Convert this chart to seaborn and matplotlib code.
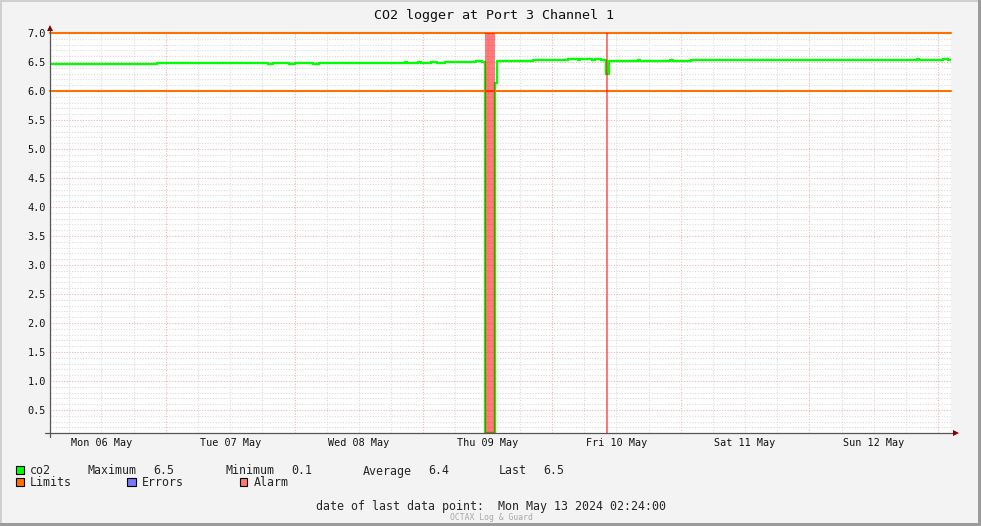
import matplotlib
matplotlib.use("Agg")
import matplotlib.pyplot as plt
import matplotlib.dates as mdates
from matplotlib.ticker import MultipleLocator, FormatStrFormatter, FuncFormatter, NullFormatter
from matplotlib.patches import Rectangle
import pandas as pd
import seaborn as sns

# ---------------- data ----------------
co2_time = [
    "2024-05-06 02:24", "2024-05-06 12:05", "2024-05-06 13:30", "2024-05-06 14:40",
    "2024-05-06 16:20", "2024-05-06 17:30", "2024-05-06 19:40", "2024-05-06 20:30",
    "2024-05-06 22:20", "2024-05-07 19:00", "2024-05-07 20:00", "2024-05-07 23:00",
    "2024-05-08 00:00", "2024-05-08 03:30", "2024-05-08 04:30", "2024-05-08 20:30",
    "2024-05-08 21:00", "2024-05-08 23:00", "2024-05-08 23:40", "2024-05-09 01:30",
    "2024-05-09 02:30", "2024-05-09 04:00", "2024-05-09 09:45", "2024-05-09 11:00",
    "2024-05-09 11:26", "2024-05-09 11:36", "2024-05-09 13:18", "2024-05-09 13:24",
    "2024-05-09 13:50", "2024-05-09 19:00", "2024-05-09 20:30", "2024-05-10 02:58",
    "2024-05-10 04:50", "2024-05-10 05:10", "2024-05-10 07:30", "2024-05-10 08:00",
    "2024-05-10 09:06", "2024-05-10 10:04", "2024-05-10 10:36", "2024-05-10 16:00",
    "2024-05-10 16:30", "2024-05-10 22:00", "2024-05-10 22:30", "2024-05-11 02:00",
    "2024-05-11 02:30", "2024-05-11 06:00", "2024-05-12 20:00", "2024-05-12 20:30",
    "2024-05-13 01:00", "2024-05-13 01:45", "2024-05-13 02:24",
]
co2_value = [
    6.46, 6.47, 6.46, 6.47,
    6.46, 6.47, 6.46, 6.47,
    6.48, 6.47, 6.48, 6.47,
    6.48, 6.47, 6.48, 6.50,
    6.48, 6.50, 6.49, 6.50,
    6.49, 6.50, 6.51, 6.50,
    5.40, 0.10, 2.10, 6.14,
    6.51, 6.52, 6.53, 6.555,
    6.53, 6.555, 6.54, 6.555,
    6.53, 6.29, 6.52, 6.54,
    6.52, 6.54, 6.52, 6.54,
    6.53, 6.535, 6.555, 6.535,
    6.555, 6.535, 6.535,
]
limit_values = [6.0, 7.0]
alarm_start = ["2024-05-09 11:36", "2024-05-10 10:05"]
alarm_end = ["2024-05-09 13:22", "2024-05-10 10:27"]
x_start, x_end = "2024-05-06 02:24", "2024-05-13 02:24"

title = "CO2 logger at Port 3 Channel 1"
stat_names = ["Maximum", "Minimum", "Average", "Last"]
stat_values = ["6.5", "0.1", "6.4", "6.5"]
legend_labels = ["co2", "Limits", "Errors", "Alarm"]
legend_colors = ["#00FF00", "#FF7000", "#7777FF", "#FF7777"]
last_point_text = "date of last data point:  Mon May 13 2024 02:24:00"
footer = "OCTAX Log & Guard"

# ---------------- style ----------------
sns.set_style("white")
plt.rcParams["font.family"] = ["DejaVu Sans Mono", "DejaVu Sans"]

W, H = 981, 526
fig = plt.figure(figsize=(W / 100, H / 100), dpi=100, facecolor="#F3F3F3")
ax = fig.add_axes([50 / W, 93 / H, 901 / W, 400 / H])
ax.set_facecolor("white")

df = pd.DataFrame({"time": pd.to_datetime(co2_time), "co2": co2_value})

sns.lineplot(data=df, x="time", y="co2", ax=ax, color="#00FF00", lw=1.7,
             drawstyle="steps-post", legend=False, zorder=3)

for lv in limit_values:
    ax.axhline(lv, color="#FF7000", lw=1.5, zorder=4, clip_on=False)

for s, e in zip(alarm_start, alarm_end):
    ax.axvspan(pd.Timestamp(s), pd.Timestamp(e), color="#FF0000", alpha=0.52,
               lw=0, zorder=5)

ax.set_xlim(pd.Timestamp(x_start), pd.Timestamp(x_end))
ax.set_ylim(7 - 400 / 58, 7.0)

# y axis
ax.yaxis.set_major_locator(MultipleLocator(0.5))
ax.yaxis.set_minor_locator(MultipleLocator(0.1))
ax.yaxis.set_major_formatter(FormatStrFormatter("%.1f"))
ax.tick_params(axis="y", which="both", length=0, pad=3.0, labelsize=7.4,
               labelcolor="#111111")

# x axis
ax.xaxis.set_major_locator(mdates.DayLocator())
ax.xaxis.set_minor_locator(mdates.HourLocator(byhour=[0, 6, 12, 18]))
ax.xaxis.set_major_formatter(NullFormatter())


def minor_fmt(x, pos):
    hour = int(round((x % 1) * 24)) % 24
    if hour == 12:
        return mdates.num2date(x).strftime("%a %d %b")
    return ""


ax.xaxis.set_minor_formatter(FuncFormatter(minor_fmt))
ax.tick_params(axis="x", which="major", length=2.2, width=0.8, color="#E89A9A")
ax.tick_params(axis="x", which="minor", length=2.2, width=0.8, color="#C8C8C8",
               pad=1.6, labelsize=7.3, labelcolor="#111111")
ax.set_xlabel("")
ax.set_ylabel("")

ax.grid(which="minor", color="#DADADA", linestyle=(0, (1, 1.6)), lw=0.75)
ax.grid(which="major", color="#EBB2B2", linestyle=(0, (1, 1.6)), lw=0.75)
ax.set_axisbelow(True)

for sp in ax.spines.values():
    sp.set_visible(False)

# axis lines with arrows
ax.plot([0, 0], [-4 / 400, 1.01], color="#555555", lw=0.9,
        transform=ax.transAxes, clip_on=False, zorder=6)
ax.plot([-5 / 901, 1.004], [0, 0], color="#555555", lw=0.9,
        transform=ax.transAxes, clip_on=False, zorder=6)
ax.plot([0], [1.012], marker="^", ms=4.5, color="#8B0000", mew=0,
        transform=ax.transAxes, clip_on=False, zorder=7)
ax.plot([1.0055], [0], marker=">", ms=4.5, color="#8B0000", mew=0,
        transform=ax.transAxes, clip_on=False, zorder=7)

# figure text
def fy(py):
    return 1 - py / H


fig.text(494 / W, fy(18.5), title, ha="center", va="baseline", fontsize=9.6,
         color="#111111")

# legend rows
row1_base, row2_base = 474.5, 486.5
sq_rows = [(15.5, 466), (15.5, 478), (127.5, 478), (239.5, 478)]
for (sx, sy), c in zip(sq_rows, legend_colors):
    fig.patches.append(Rectangle((sx / W, fy(sy + 8)), 8 / W, 8 / H,
                                 facecolor=c, edgecolor="black", lw=0.8,
                                 transform=fig.transFigure))

fig.text(30 / W, fy(row1_base), legend_labels[0], fontsize=8.4, va="baseline")
name_x = [88, 226, 363, 499]
val_x = [153, 291, 428, 543]
for n, v, nx, vx in zip(stat_names, stat_values, name_x, val_x):
    fig.text(nx / W, fy(row1_base), n, fontsize=8.4, va="baseline")
    fig.text(vx / W, fy(row1_base), v, fontsize=8.4, va="baseline")

for lab, lx in zip(legend_labels[1:], [30, 142, 254]):
    fig.text(lx / W, fy(row2_base), lab, fontsize=8.4, va="baseline")

fig.text(316 / W, fy(510), last_point_text, fontsize=8.4, va="baseline")
fig.text(450 / W, fy(520.5), footer, fontsize=5.8, va="baseline", color="#A8A8A8")

# frame borders (3D look)
fig.patches.append(Rectangle((0, 0), 2 / W, 1, facecolor="#CFCFCF", lw=0,
                             transform=fig.transFigure))
fig.patches.append(Rectangle((0, 1 - 2 / H), 1, 2 / H, facecolor="#CFCFCF", lw=0,
                             transform=fig.transFigure))
fig.patches.append(Rectangle((1 - 3 / W, 0), 3 / W, 1, facecolor="#9B9B9B", lw=0,
                             transform=fig.transFigure))
fig.patches.append(Rectangle((0, 0), 1, 3 / H, facecolor="#9B9B9B", lw=0,
                             transform=fig.transFigure))

fig.savefig("out.png", dpi=100, facecolor=fig.get_facecolor())
